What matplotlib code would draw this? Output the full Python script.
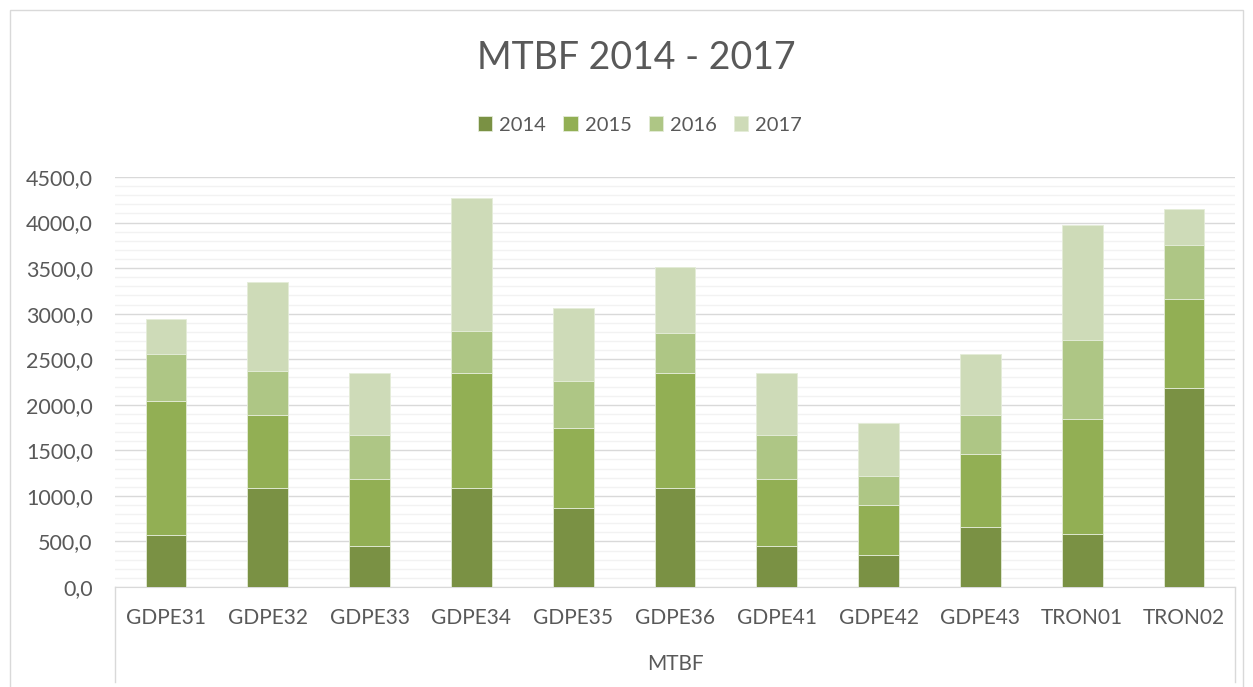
import matplotlib.pyplot as plt
from matplotlib.lines import Line2D
from matplotlib.patches import Rectangle
from matplotlib.ticker import MultipleLocator, FuncFormatter
import numpy as np

plt.rcParams['font.family'] = ['Lato', 'DejaVu Sans']

categories = ['GDPE31', 'GDPE32', 'GDPE33', 'GDPE34', 'GDPE35', 'GDPE36',
              'GDPE41', 'GDPE42', 'GDPE43', 'TRON01', 'TRON02']
years = ['2014', '2015', '2016', '2017']

v2014 = [575, 1088, 450, 1091, 867, 1091, 450, 351, 659, 578, 2189]
v2015 = [1467, 800, 735, 1258, 878, 1258, 735, 549, 805, 1263, 972]
v2016 = [512, 483, 484, 458, 513, 436, 484, 319, 421, 867, 590]
v2017 = [385, 981, 680, 1467, 805, 732, 680, 585, 677, 1262, 395]

colors = ['#7A9144', '#92AF54', '#AEC685', '#CEDBB8']
txt = '#595959'
grid_major = '#D9D9D9'
grid_minor = '#F2F2F2'

W, H = 1253, 687
fig = plt.figure(figsize=(W / 100, H / 100), dpi=100)

# cadre du graphique
fig.patches.append(Rectangle((10 / W, -0.02), 1233 / W, (H - 10) / H + 0.02,
                             transform=fig.transFigure, fill=False,
                             edgecolor=grid_major, linewidth=1))

left, right, top, bottom = 115, 1235, 177, 587
ax = fig.add_axes([left / W, (H - bottom) / H, (right - left) / W, (bottom - top) / H])

x = np.arange(len(categories))
base = np.zeros(len(categories))
for serie, col, lab in zip([v2014, v2015, v2016, v2017], colors, years):
    ax.bar(x, serie, width=0.4, bottom=base, color=col, label=lab,
           edgecolor='#E4ECD8', linewidth=0.6, zorder=3)
    base += np.array(serie)

ax.set_xlim(-0.5, len(categories) - 0.5)
ax.set_ylim(0, 4500)
ax.yaxis.set_major_locator(MultipleLocator(500))
ax.yaxis.set_minor_locator(MultipleLocator(100))
ax.yaxis.set_major_formatter(FuncFormatter(lambda v, p: f'{v:.1f}'.replace('.', ',')))
ax.grid(axis='y', which='minor', color=grid_minor, linewidth=1, zorder=0)
ax.grid(axis='y', which='major', color=grid_major, linewidth=1, zorder=1)

ax.set_xticks(x)
ax.set_xticklabels(categories)
ax.tick_params(axis='both', which='both', length=0, colors=txt)
ax.tick_params(axis='y', pad=16, labelsize=15.5)
ax.tick_params(axis='x', pad=15, labelsize=15)

for s in ['top', 'right', 'left']:
    ax.spines[s].set_visible(False)
ax.spines['bottom'].set_color(grid_major)

# boite de l'axe des categories
for xp in [left, right]:
    fig.add_artist(Line2D([xp / W, xp / W], [(H - bottom) / H, (H - 682) / H],
                          transform=fig.transFigure, color=grid_major, linewidth=1))
fig.text((left + right) / 2 / W, 1 - 664 / H, 'MTBF', ha='center', va='center',
         fontsize=15, color=txt)

fig.text(636 / W, 1 - 58 / H, 'MTBF 2014 - 2017', ha='center', va='center',
         fontsize=27, color=txt)

fig.legend(loc='center', bbox_to_anchor=(640 / W, 1 - 125 / H), ncol=4,
           frameon=False, fontsize=14.5, labelcolor=txt, handlelength=0.7,
           handleheight=0.7, handletextpad=0.35, columnspacing=0.85)

plt.savefig('out.png', dpi=100)
